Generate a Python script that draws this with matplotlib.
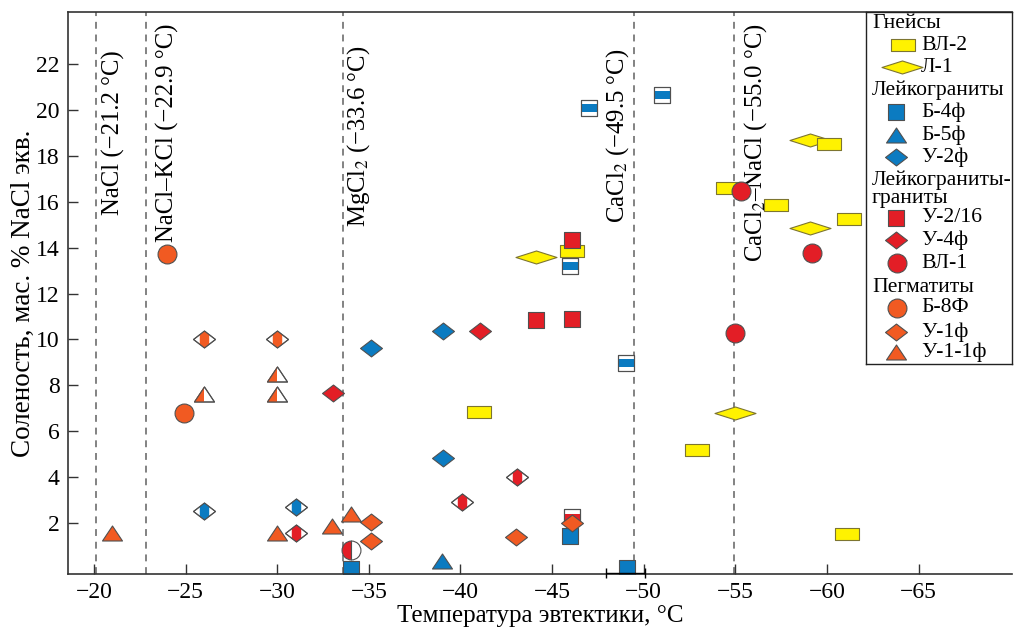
import matplotlib
matplotlib.use("Agg")
import matplotlib.pyplot as plt
from matplotlib.path import Path

plt.rcParams['font.family'] = ['Liberation Serif', 'DejaVu Serif']
plt.rcParams['mathtext.fontset'] = 'stix'

# --- data (temperature of eutectic, salinity) ---
vl2_x = [-41.0, -46.1, -52.9, -54.6, -57.2, -60.1, -61.2, -61.1]
vl2_y = [6.83, 13.86, 5.17, 16.62, 15.85, 18.54, 15.27, 1.50]
l1_x = [-44.1, -55.0, -59.1, -59.1]
l1_y = [13.6, 6.81, 18.71, 14.86]
b4_x = [-34.05, -46.0, -49.1]
b4_y = [0.0, 1.44, 0.02]
b4s_x = [-46.0, -47.0, -51.0, -49.05]
b4s_y = [13.2, 20.09, 20.64, 8.99]
b5_x = [-39.0]
b5_y = [0.32]
u2_x = [-35.1, -39.05, -39.05]
u2_y = [9.63, 10.37, 4.81]
u2s_x = [-26.0, -31.0]
u2s_y = [2.53, 2.70]
u216_x = [-44.1, -46.1, -46.1]
u216_y = [10.84, 10.87, 14.32]
u216p_x = [-46.1]
u216p_y = [2.27]
u4_x = [-33.05, -41.05]
u4_y = [7.67, 10.37]
u4s_x = [-31.0, -40.1, -43.1]
u4s_y = [1.54, 2.91, 4.01]
vl1_x = [-55.0, -55.3, -59.2]
vl1_y = [10.30, 16.47, 13.79]
vl1h_x = [-34.0]
vl1h_y = [0.81]
b8_x = [-24.0, -24.9]
b8_y = [13.71, 6.80]
u1_x = [-35.1, -35.1, -43.05, -46.1]
u1_y = [2.05, 1.22, 1.37, 1.98]
u1s_x = [-26.0, -30.0]
u1s_y = [10.0, 10.0]
u11_x = [-21.0, -30.0, -33.0, -34.0]
u11_y = [1.54, 1.54, 1.86, 2.37]
u11h_x = [-26.0, -30.0, -30.0]
u11h_y = [7.61, 8.48, 7.61]
err_x = [-49.0]
err_y = [-0.2]
err_dx = [1.05]

eut_x = [-20.1, -22.85, -33.6, -49.45, -54.95]
eut_labels = ['NaCl (−21.2 °C)', 'NaCl–KCl (−22.9 °C)', 'MgCl$_2$ (−33.6 °C)',
              'CaCl$_2$ (−49.5 °C)', 'CaCl$_2$–NaCl (−55.0 °C)']
eut_tx = [-21.05, -24.0, -34.45, -48.6, -56.1]
eut_ty = [22.6, 23.8, 22.8, 22.7, 23.8]

YEL, BLUE, RED, ORG = '#fff200', '#0b7bc1', '#e31e26', '#f15a22'
EDGE, YEDGE = '#505050', '#7d7530'


def mk(poly, ext):
    # first moveto only fixes common scale of partial shapes
    verts = [(ext, 0)] + poly + [poly[0]]
    codes = [Path.MOVETO, Path.MOVETO] + [Path.LINETO] * (len(poly) - 1) + [Path.CLOSEPOLY]
    return Path(verts, codes)


def rect(w, h):
    return [(-w, -h), (w, -h), (w, h), (-w, h)]


def dia(w, h):
    return [(-w, 0), (0, -h), (w, 0), (0, h)]


RECT = mk(rect(1.85, 1), 1.85)
FLAT = mk(dia(3.15, 1), 3.15)
SQ = mk(rect(1, 1), 1)
SQ_BAND = mk(rect(1, 0.5), 1)
SQ_LOW = mk([(-1, -1), (1, -1), (1, 0.35), (-1, 0.35)], 1)
DIA = mk(dia(1.3, 1), 1.3)
a = 0.43 * 1.3
hh = 1 - a / 1.3
DIA_BAND = mk([(-a, -hh), (0, -1), (a, -hh), (a, hh), (0, 1), (-a, hh)], 1.3)
TRI = mk([(-1, -0.75), (1, -0.75), (0, 0.75)], 1)
TRI_LEFT = mk([(-1, -0.75), (0, -0.75), (0, 0.75)], 1)

MS = {'rect': 17.3, 'flat': 29.5, 'sq': 11.8, 'dia': 15.8, 'tri': 14.4, 'o': 13.6}


def full(ax, x, y, m, ms, c, ec=EDGE, **kw):
    ax.plot(x, y, ls='none', marker=m, ms=ms, mfc=c, mec=ec, mew=0.8, **kw)


def part(ax, x, y, m, mpart, ms, c):
    ax.plot(x, y, ls='none', marker=m, ms=ms, mfc='white', mec=EDGE, mew=0.8)
    ax.plot(x, y, ls='none', marker=mpart, ms=ms, mfc=c, mec='none', mew=0)
    ax.plot(x, y, ls='none', marker=m, ms=ms, mfc='none', mec=EDGE, mew=0.8)


fig = plt.figure(figsize=(10.17, 6.29), dpi=100)
ax = fig.add_axes([68 / 1017, 55 / 629, 944 / 1017, 562 / 629])

for xv in eut_x:
    ax.axvline(xv, color='#606060', lw=1.1, dashes=(4.5, 3.8), zorder=1)
for tx, ty, s in zip(eut_tx, eut_ty, eut_labels):
    ax.text(tx, ty, s, rotation=90, ha='center', va='top', fontsize=17.8, zorder=2)

part(ax, b4s_x, b4s_y, SQ, SQ_BAND, MS['sq'], BLUE)
full(ax, b4_x, b4_y, SQ, MS['sq'], BLUE)
ax.errorbar(err_x, err_y, xerr=err_dx, fmt='none', ecolor='black', elinewidth=1.0,
            capsize=3.5, clip_on=False, zorder=3)
full(ax, b5_x, b5_y, TRI, MS['tri'], BLUE)
full(ax, u2_x, u2_y, DIA, MS['dia'], BLUE)
part(ax, u2s_x, u2s_y, DIA, DIA_BAND, MS['dia'], BLUE)
full(ax, l1_x, l1_y, FLAT, MS['flat'], YEL, ec=YEDGE)
full(ax, vl2_x, vl2_y, RECT, MS['rect'], YEL, ec=YEDGE)
full(ax, u216_x, u216_y, SQ, MS['sq'], RED)
part(ax, u216p_x, u216p_y, SQ, SQ_LOW, MS['sq'], RED)
full(ax, u4_x, u4_y, DIA, MS['dia'], RED)
part(ax, u4s_x, u4s_y, DIA, DIA_BAND, MS['dia'], RED)
full(ax, vl1_x, vl1_y, 'o', MS['o'], RED)
ax.plot(vl1h_x, vl1h_y, ls='none', marker='o', ms=MS['o'], fillstyle='left',
        mfc=RED, mfcalt='white', mec=EDGE, mew=0.8)
full(ax, b8_x, b8_y, 'o', MS['o'], ORG)
full(ax, u1_x, u1_y, DIA, MS['dia'], ORG)
part(ax, u1s_x, u1s_y, DIA, DIA_BAND, MS['dia'], ORG)
full(ax, u11_x, u11_y, TRI, MS['tri'], ORG)
part(ax, u11h_x, u11h_y, TRI, TRI_LEFT, MS['tri'], ORG)

ax.set_xlim(-18.58, -70.1)
ax.set_ylim(-0.23, 24.28)
ax.set_xticks(range(-20, -66, -5))
ax.set_yticks(range(2, 23, 2))
ax.tick_params(direction='in', length=7, width=1, labelsize=17, pad=6, color='#333333')
for side in ['left', 'bottom', 'top']:
    ax.spines[side].set_color('#333333')
    ax.spines[side].set_linewidth(1.2)
ax.spines['right'].set_visible(False)
ax.set_xlabel('Температура эвтектики, °C', fontsize=18, labelpad=1)
ax.set_ylabel('Соленость, мас. % NaCl экв.', fontsize=19.5, labelpad=0)

# legend box
lax = fig.add_axes([866 / 1017, (629 - 364) / 629, 146 / 1017, 352 / 629])
lax.set_xlim(0, 146)
lax.set_ylim(352, 0)
lax.set_xticks([])
lax.set_yticks([])
for sp in lax.spines.values():
    sp.set_color('#222222')
    sp.set_linewidth(1.0)

heads = [('Гнейсы', 11), ('Лейкограниты', 78), ('Лейкограниты-', 168),
         ('граниты', 187), ('Пегматиты', 275)]
for s, yy in heads:
    lax.text(6, yy, s, fontsize=15.6, va='center', ha='left')

keys = [
    ('ВЛ-2', 33, 37, RECT, 'rect', YEL, YEDGE),
    ('Л-1', 55, 36, FLAT, 'flat', YEL, YEDGE),
    ('Б-4ф', 100, 30, SQ, 'sq', BLUE, EDGE),
    ('Б-5ф', 123, 30, TRI, 'tri', BLUE, EDGE),
    ('У-2ф', 145, 30, DIA, 'dia', BLUE, EDGE),
    ('У-2/16', 206, 30, SQ, 'sq', RED, EDGE),
    ('У-4ф', 228, 30, DIA, 'dia', RED, EDGE),
    ('ВЛ-1', 251, 31, 'o', 'o', RED, EDGE),
    ('Б-8Ф', 296, 31, 'o', 'o', ORG, EDGE),
    ('У-1ф', 320, 30, DIA, 'dia', ORG, EDGE),
    ('У-1-1ф', 340, 30, TRI, 'tri', ORG, EDGE),
]
for s, yy, xx, m, k, c, ec in keys:
    lax.plot([xx], [yy], ls='none', marker=m, ms=MS[k], mfc=c, mec=ec, mew=0.8, clip_on=False)
    lax.text(55, yy, s, fontsize=15.6, va='center', ha='left')

fig.savefig('out.png', dpi=100)
